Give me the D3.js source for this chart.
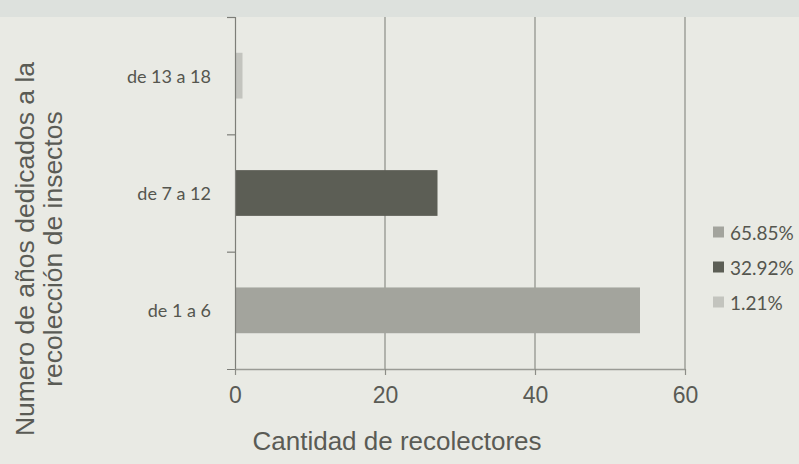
<!DOCTYPE html>
<html>
<head>
<meta charset="utf-8">
<script src="https://cdn.jsdelivr.net/npm/d3@7"></script>
<style>
  html, body { margin: 0; padding: 0; background: #e8e9e3; }
  svg { display: block; }
</style>
</head>
<body>
<svg id="chart" width="799" height="464"></svg>
<script>
// ---- data ----
const categories = ["de 1 a 6", "de 7 a 12", "de 13 a 18"];
const values = [54, 27, 1];
const legendLabels = ["65.85%", "32.92%", "1.21%"];
const xTicks = [0, 20, 40, 60];
const xTitle = "Cantidad de recolectores";
const yTitle = ["Numero de años dedicados a la", "recolección de insectos"];
const colors = ["#a3a49d", "#5c5e55", "#c3c4be"];

const svg = d3.select("#chart");
const W = 799, H = 464;

// background
svg.append("rect").attr("width", W).attr("height", H).attr("fill", "#e9eae4");
svg.append("rect").attr("width", W).attr("height", 17).attr("fill", "#dde1dd");

const m = { left: 235, right: 685, top: 17, bottom: 369 };

const x = d3.scaleLinear().domain([0, 60]).range([m.left, m.right]);
const y = d3.scaleBand().domain(categories.slice().reverse()).range([m.top, m.bottom])
  .paddingInner(0.61).paddingOuter(0.305);

// gridlines
svg.append("g").selectAll("line").data(xTicks.slice(1)).join("line")
  .attr("x1", d => x(d)).attr("x2", d => x(d))
  .attr("y1", m.top).attr("y2", m.bottom)
  .attr("stroke", "#8c8d87").attr("stroke-width", 1.2);

// bars
svg.append("g").selectAll("rect").data(categories).join("rect")
  .attr("x", x(0))
  .attr("y", d => y(d))
  .attr("width", (d, i) => x(values[i]) - x(0))
  .attr("height", y.bandwidth())
  .attr("fill", (d, i) => colors[i]);

// y axis (category)
const yAxis = d3.axisLeft(d3.scaleLinear().domain([0, 3]).range([m.bottom, m.top]))
  .tickValues([1, 2, 3]).tickSize(8).tickFormat("");
const gy = svg.append("g").attr("transform", `translate(${m.left},0)`).call(yAxis);
gy.select(".domain").attr("stroke", "#7d7e78").attr("stroke-width", 1.2);
gy.selectAll(".tick line").attr("stroke", "#7d7e78").attr("stroke-width", 1.2);

svg.append("g").selectAll("text").data(categories).join("text")
  .attr("x", m.left - 24)
  .attr("y", d => y(d) + y.bandwidth() / 2)
  .attr("text-anchor", "end")
  .attr("dominant-baseline", "central")
  .attr("font-family", "Lato, 'Open Sans', sans-serif")
  .attr("font-size", 18)
  .attr("fill", "#55564f")
  .text(d => d);

// x axis
const xAxis = d3.axisBottom(x).tickValues(xTicks).tickSize(6).tickSizeOuter(0).tickPadding(12);
const gx = svg.append("g").attr("transform", `translate(0,${m.bottom})`).call(xAxis);
gx.select(".domain").attr("stroke", "#9a9b95").attr("stroke-width", 1.5);
gx.selectAll(".tick line").attr("stroke", "#8c8d87").attr("stroke-width", 1.2);
gx.selectAll(".tick text")
  .attr("font-family", "'Liberation Sans', Arial, sans-serif")
  .attr("font-size", 23)
  .attr("fill", "#5a5b55");

// axis titles
svg.append("text")
  .attr("x", 397).attr("y", 441)
  .attr("text-anchor", "middle").attr("dominant-baseline", "central")
  .attr("font-family", "'Liberation Sans', Arial, sans-serif")
  .attr("font-size", 26).attr("fill", "#5a5b55")
  .text(xTitle);

const yt = svg.append("text")
  .attr("transform", "translate(25,249) rotate(-90)")
  .attr("text-anchor", "middle")
  .attr("font-family", "'Liberation Sans', Arial, sans-serif")
  .attr("font-size", 26.5).attr("fill", "#5a5b55");
yt.selectAll("tspan").data(yTitle).join("tspan")
  .attr("x", 0).attr("dy", (d, i) => i === 0 ? "0.35em" : 28)
  .text(d => d);

// legend
const lg = svg.append("g").selectAll("g").data(legendLabels).join("g")
  .attr("transform", (d, i) => `translate(713,${232 + i * 35})`);
lg.append("rect").attr("x", 0).attr("y", -5.5).attr("width", 11).attr("height", 11)
  .attr("fill", (d, i) => colors[i]);
lg.append("text").attr("x", 17).attr("y", 0)
  .attr("dominant-baseline", "central")
  .attr("font-family", "Lato, 'Open Sans', sans-serif")
  .attr("font-size", 19).attr("fill", "#55564f")
  .text(d => d);
</script>
</body>
</html>
